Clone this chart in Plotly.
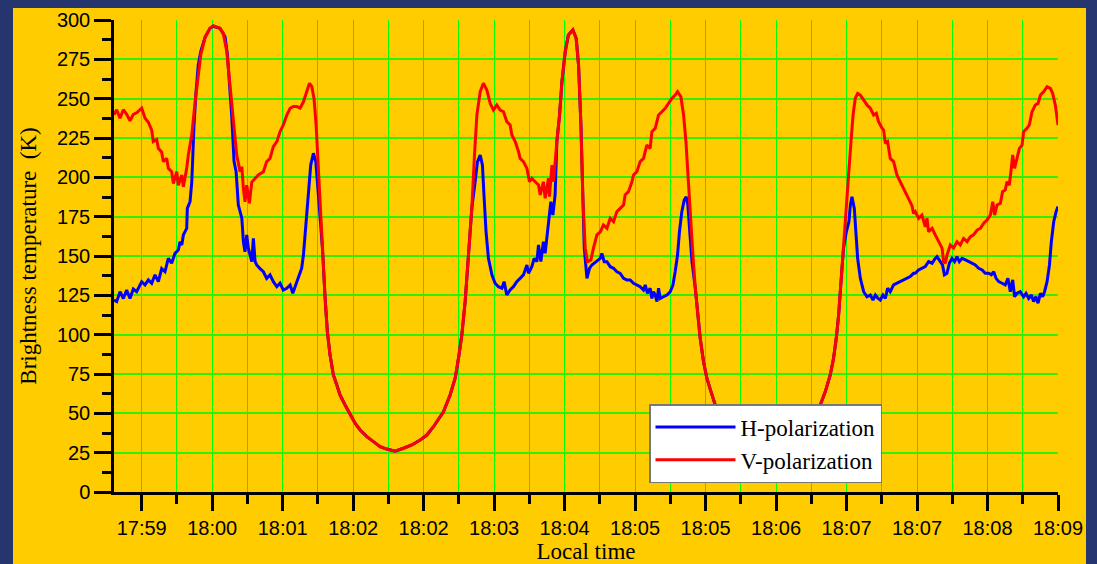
import pandas as pd
import plotly.graph_objects as go

# Observation start (date is arbitrary; only the clock time matters)
base = pd.Timestamp("2024-01-01 17:59:00")

# ---------------- H-polarization: seconds after 17:59:00, brightness temperature (K)
h_sec = [31.5, 33.2, 35.3, 37.4, 39.5, 41.6, 43.7, 45.8, 49.0, 51.1, 53.2, 55.3, 57.4, 59.5,
         61.6, 63.7, 65.8, 67.9, 70.0, 72.1, 73.2, 74.3, 75.3, 77.4, 77.8, 79.5, 80.6, 81.2,
         82.0, 83.3, 84.7, 86.3, 89.0, 92.1, 94.2, 98.4, 101.6, 103.1, 104.8, 105.8, 107.3,
         108.6, 110.0, 111.1, 112.2, 113.2, 114.2, 115.3, 116.3, 118.5, 119.5, 120.6, 121.6,
         123.7, 125.8, 127.9, 130.0, 132.1, 134.3, 136.3, 138.4, 140.6, 142.7, 144.4, 145.8,
         147.9, 150.0, 151.1, 152.8, 154.2, 155.7, 157.4, 158.9, 159.9, 161.2, 163.1, 164.8,
         166.2, 167.9, 170.0, 172.2, 174.2, 177.4, 180.6, 183.7, 186.9, 191.1, 195.3, 199.5,
         203.7, 209.0, 214.2, 219.5, 224.8, 229.0, 233.2, 235.3, 239.5, 243.7, 246.9, 249.0,
         251.1, 253.2, 255.3, 257.4, 259.5, 261.0, 262.7, 264.1, 265.2, 266.4, 267.9, 270.1,
         272.1, 274.2, 276.4, 277.8, 279.5, 281.6, 283.7, 285.8, 287.9, 290.0, 292.2, 293.2,
         295.3, 296.8, 298.5, 299.5, 301.0, 302.6, 303.7, 305.2, 306.4, 307.3, 308.6, 310.0,
         311.1, 312.8, 314.3, 316.4, 318.4, 321.2, 323.3, 324.8, 326.3, 327.5, 328.4, 330.1,
         331.7, 333.2, 334.7, 336.4, 338.5, 339.5, 341.0, 342.7, 344.8, 346.9, 349.0, 351.1,
         353.2, 355.3, 357.4, 359.5, 361.6, 363.7, 365.8, 366.9, 368.3, 370.0, 371.1, 372.1,
         373.2, 374.3, 375.3, 376.4, 378.4, 380.6, 382.7, 384.4, 385.8, 387.3, 388.5, 390.0,
         391.5, 392.8, 393.8, 394.9, 396.4, 398.5, 399.9, 401.6, 403.7, 405.8, 408.4, 411.1,
         414.4, 417.7, 420.9, 425.4, 429.7, 434.1, 438.5, 443.9, 449.4, 454.9, 460.4, 464.8,
         469.1, 471.3, 475.6, 477.4, 480.6, 483.7, 485.8, 487.5, 489.0, 490.5, 492.1, 493.8,
         495.5, 496.4, 497.4, 498.9, 500.2, 501.0, 502.7, 504.8, 506.9, 509.0, 510.7, 512.2,
         513.9, 515.3, 517.0, 518.5, 519.9, 521.6, 523.7, 525.8, 527.9, 530.0, 532.2, 534.2,
         536.3, 537.4, 539.5, 541.6, 543.7, 545.8, 548.0, 550.0, 551.1, 553.2, 554.6, 555.8,
         557.4, 558.9, 560.6, 562.2, 563.7, 565.2, 566.9, 569.1, 571.2, 573.3, 575.3, 577.4,
         579.6, 581.6, 583.7, 585.4, 586.9, 588.4, 590.1, 592.2, 594.2, 595.9, 597.4, 598.9,
         600.1, 601.6, 603.7, 605.8, 607.3, 609.0, 610.7, 612.1, 613.6, 614.9, 616.4, 617.8,
         619.0, 620.6, 622.1, 623.3, 624.8, 626.3, 627.5]
h_temp = [122, 121, 127.3, 123, 128.4, 123, 129, 127.3, 133.7, 131.6, 134.8, 132.7, 138, 133.7,
          142, 140, 148.5, 145.4, 151.7, 153.8, 159, 157, 163.4, 167.6, 180.3, 184.5, 197, 218.5,
          233, 254.5, 271.4, 280, 289, 294.7, 296, 294.7, 289.4, 278, 256.6, 239.6, 210,
          203.6, 182.4, 178, 174, 159, 152.7, 163.4, 155, 146.4, 161.2, 146.4, 144.3,
          142, 140, 135.8, 138, 133.7, 130.5, 132.7, 128.4, 129.5, 131.6, 126.3, 130.5,
          135.8, 142.2, 150.6, 171.8, 193, 207.8, 215.3, 210, 197.2, 180.3, 155, 123,
          101.9, 87, 74.4, 68, 61.7, 55.3, 49, 43.7, 39.4, 35.2, 32, 28.8,
          27.3, 26, 27.8, 29.9, 33, 36.2, 41.5, 44.7, 51, 61.7, 72.3, 85,
          99.8, 121, 148.5, 180.3, 197.2, 210, 214.2, 207.8, 186.7, 165.4, 148.5, 138,
          132.7, 130.5, 129.5, 133.7, 125.2, 128.4, 130.5, 133.7, 135.8, 138, 144.3, 139,
          143.2, 148.5, 146.4, 157, 146.4, 159.1, 151.7, 165.4, 172.9, 184.5, 176, 188.8,
          222.7, 239.6, 260.8, 280, 290.5, 293.7, 288.4, 271.4, 233.3, 186.7, 155, 135.8,
          142.2, 144.3, 145.4, 146.4, 148.5, 151.7, 146.4, 146.4, 143.2, 142.2, 140, 139,
          135.8, 134.8, 134.8, 132.7, 131.6, 130.5, 128.4, 131.6, 126.3, 129.5, 123, 127.3,
          125.2, 121, 129.5, 123, 124.1, 125.2, 127.3, 131.6, 140, 150.6, 165.4, 178.2,
          185.6, 187.7, 182.4, 165.4, 146.4, 129.5, 114.6, 97.7, 82.8, 72.3, 63.8, 55.3,
          49, 43.7, 39.4, 35.2, 32, 28.8, 27.3, 26, 27.8, 29.9, 33, 36.2,
          41.5, 44.7, 51, 55.3, 63.8, 74.4, 85, 97.7, 112.5, 133.7, 155, 165,
          171.8, 182.4, 187.7, 180.3, 163.4, 148.5, 135.8, 127.3, 124.1, 125.2, 122, 125.2,
          123, 122, 125.2, 123, 129.5, 127.3, 131.6, 132.7, 133.7, 134.8, 135.8, 136.9,
          139, 139, 141.1, 142.2, 143.2, 146.4, 145.4, 148.5, 149.6, 146.4, 144.3, 138,
          139, 145.4, 148.5, 146.4, 149.6, 146.4, 148.5, 147.5, 146.4, 145.4, 144.3, 142.2,
          141.1, 139, 139, 138, 140, 135.8, 133.7, 132.7, 131.6, 135.8, 127.3, 134.8,
          124.1, 126.3, 127.3, 124.1, 126.3, 123, 125.2, 121, 124.1, 120, 126.3, 124.1,
          127.3, 133.7, 144.3, 159.1, 171.8, 178.2, 181.4]

# ---------------- V-polarization
v_sec = [31.5, 33.2, 35.3, 37.4, 39.5, 41.6, 43.7, 45.8, 49.0, 51.1, 53.2, 55.3, 56.3, 58.5,
         59.5, 61.6, 62.6, 64.8, 65.8, 67.9, 69.0, 71.1, 72.1, 74.3, 75.3, 77.4, 78.4, 79.5,
         80.6, 82.7, 84.6, 86.3, 89.0, 92.1, 94.2, 98.4, 100.5, 102.7, 104.3, 105.8, 107.3,
         109.0, 111.1, 112.2, 113.2, 114.2, 115.3, 117.0, 118.5, 120.6, 122.6, 125.8, 127.9,
         130.0, 132.1, 134.3, 136.3, 138.4, 140.6, 142.7, 144.7, 146.9, 149.0, 151.1, 153.2,
         154.9, 156.4, 157.8, 159.1, 160.5, 161.6, 163.1, 164.8, 166.2, 167.9, 170.0, 172.2,
         174.2, 177.4, 180.6, 183.7, 186.9, 191.1, 195.3, 199.5, 203.7, 209.0, 214.2, 219.5,
         224.8, 229.0, 233.2, 235.3, 239.5, 243.7, 246.9, 249.0, 251.1, 253.2, 255.3, 257.4,
         259.1, 260.6, 262.7, 264.7, 266.9, 269.0, 271.1, 273.2, 275.3, 277.4, 279.5, 281.6,
         282.7, 284.8, 286.9, 287.9, 290.0, 292.2, 293.8, 295.3, 297.4, 299.5, 300.6, 302.6,
         303.7, 305.8, 306.4, 308.0, 309.0, 310.0, 311.1, 312.8, 314.3, 316.4, 318.4, 321.2,
         323.3, 324.8, 326.3, 327.5, 329.0, 330.4, 332.6, 334.2, 336.4, 338.5, 340.5, 342.7,
         344.8, 346.9, 349.0, 351.1, 353.2, 354.2, 356.3, 358.5, 359.5, 361.6, 363.7, 365.8,
         366.9, 367.9, 370.0, 371.1, 373.2, 375.3, 377.4, 379.5, 381.6, 383.7, 385.8, 387.3,
         389.4, 391.1, 392.6, 393.8, 395.3, 397.0, 398.5, 399.9, 401.6, 403.7, 405.8, 408.4,
         411.1, 414.4, 417.7, 420.9, 425.4, 429.7, 434.1, 438.5, 443.9, 449.4, 454.9, 460.4,
         464.8, 469.1, 471.3, 475.6, 477.4, 480.6, 483.7, 485.8, 487.5, 489.0, 490.5, 492.1,
         493.8, 495.3, 496.8, 498.1, 499.5, 501.0, 502.7, 504.8, 506.9, 509.0, 511.1, 512.8,
         514.2, 516.4, 517.4, 518.5, 519.9, 521.6, 523.7, 525.8, 527.9, 530.0, 532.2, 533.8,
         535.3, 536.3, 537.4, 539.5, 541.6, 543.7, 544.8, 545.8, 548.0, 550.0, 552.1, 554.3,
         555.3, 556.4, 557.4, 559.5, 561.6, 563.7, 565.8, 567.9, 570.1, 572.2, 574.2, 576.4,
         578.5, 580.6, 582.7, 584.8, 586.3, 587.5, 589.0, 591.1, 592.5, 594.2, 595.3, 596.8,
         598.0, 598.9, 600.1, 601.6, 603.1, 604.8, 605.8, 607.9, 609.4, 611.1, 613.2, 614.9,
         616.4, 618.4, 620.6, 622.7, 624.1, 625.8, 627.5]
v_temp = [239.7, 243, 237.5, 243, 240, 236, 240, 241, 244, 237.5, 235, 230, 222.7, 224,
          218.5, 216, 210, 212, 205.7, 203.6, 196, 203.6, 195, 201.5, 194, 205.7, 214, 219.5,
          227, 248, 265, 278, 289, 294.7, 296.4, 294.7, 291.5, 280, 263, 248, 229,
          214, 203.6, 206.8, 193, 184.5, 195, 183.5, 197, 199, 201.5, 203.6, 210,
          212, 219.5, 222.7, 229, 233.3, 239.6, 243.9, 245, 245, 244, 248, 254.4,
          259.8, 257.6, 250, 233.3, 205.7, 180.3, 155, 123, 101.9, 87, 74.4, 68,
          61.7, 55.3, 49, 43.7, 39.4, 35.2, 32, 28.8, 27.3, 26, 27.8, 29.9,
          33, 36.2, 41.5, 44.7, 51, 61.7, 72.3, 85, 99.8, 121, 148.5, 180.3,
          214.2, 239.6, 254.4, 259.8, 255.5, 247, 242.8, 246, 242.8, 241.7, 235.4, 233.3,
          226.9, 222.7, 216.3, 212, 210, 205.7, 197.2, 199.4, 197.2, 195.1, 188.8, 197.2,
          186.7, 199.4, 187.7, 207.8, 197.2, 210, 222.7, 239.6, 260.8, 280, 290.5, 293.7,
          288.4, 271.4, 233.3, 186.7, 155, 146.4, 147.5, 155, 163.4, 165.4, 169.7, 167.6,
          174, 171.8, 178.2, 180.3, 182.4, 188.8, 190.9, 197.2, 201.5, 203.6, 210, 212,
          216.3, 220.5, 218.4, 229, 231.2, 239.6, 241.7, 243.9, 247, 250.2, 252.3, 254.4,
          251.2, 239.6, 222.7, 201.5, 176, 150.6, 129.5, 114.6, 97.7, 82.8, 72.3, 63.8,
          55.3, 49, 43.7, 39.4, 35.2, 32, 28.8, 27.3, 26, 27.8, 29.9, 33,
          36.2, 41.5, 44.7, 51, 55.3, 63.8, 74.4, 85, 97.7, 112.5, 133.7, 155,
          176, 201.5, 222.7, 239.6, 250.2, 253.4, 252.3, 249.2, 246, 243.9, 239.6, 240.7,
          235.4, 231.2, 230, 221.6, 222.7, 212, 210, 201.5, 197.2, 193, 188.8, 185.6,
          182, 177.1, 178.2, 174, 176, 168.6, 174, 165.4, 167.6, 163.4, 159.1, 155,
          146.4, 145.4, 150.6, 157, 155, 159.1, 157, 161.2, 159.1, 162.3, 163.4, 166.5,
          167.6, 170.8, 172.9, 176, 184.5, 176, 182.4, 183.5, 190.9, 192, 197.2, 195.1,
          205.7, 214.2, 205.7, 212, 218.4, 220.5, 229, 231.2, 233.3, 241.7, 246, 247,
          252.3, 254.4, 257.6, 256.5, 253.4, 246, 233.3]

y_ticks = [0, 25, 50, 75, 100, 125, 150, 175, 200, 225, 250, 275, 300]


def clock(secs):
    return [base + pd.Timedelta(seconds=s) for s in secs]


fig = go.Figure()
fig.add_trace(go.Scatter(x=clock(h_sec), y=h_temp, mode="lines", name="H-polarization",
                         line=dict(color="#0000ff", width=3)))
fig.add_trace(go.Scatter(x=clock(v_sec), y=v_temp, mode="lines", name="V-polarization",
                         line=dict(color="#ff0000", width=3)))

W, H = 1097, 564
L, R, T, B = 114, 1058, 20, 492
pw, ph = R - L, B - T

# yellow slide panel behind the chart
fig.add_shape(type="rect", xref="paper", yref="paper", layer="below",
              x0=(13 - L) / pw, x1=(1086 - L) / pw,
              y0=(B - 570) / ph, y1=(B - 8) / ph,
              fillcolor="#ffcc00", line=dict(width=0))

tickfont = dict(family="Liberation Sans, Arial", size=20, color="black")
serif = "Liberation Serif, Times New Roman"

fig.update_layout(
    width=W, height=H,
    margin=dict(l=L, r=W - R, t=T, b=H - B, autoexpand=False),
    paper_bgcolor="#27356f",
    plot_bgcolor="#ffcc00",
    showlegend=True,
    legend=dict(x=(649 - L) / pw, y=(B - 404) / ph, xanchor="left", yanchor="top",
                bgcolor="white", bordercolor="#777777", borderwidth=1.5,
                font=dict(family=serif, size=23, color="black"),
                itemwidth=80, tracegroupgap=0),
    xaxis=dict(
        type="date", automargin=False,
        range=[base + pd.Timedelta(seconds=31.5), base + pd.Timedelta(seconds=627.5)],
        tick0=base + pd.Timedelta(seconds=49), dtick=44500, tickformat="%H:%M",
        ticks="outside", ticklen=16, tickwidth=2.5, tickcolor="black",
        showline=True, linecolor="black", linewidth=2.5,
        showgrid=True, gridcolor="#00ff00", gridwidth=1.2,
        minor=dict(dtick=22250, tick0=base + pd.Timedelta(seconds=49), ticks="outside",
                   ticklen=9, tickwidth=2.5, tickcolor="black",
                   showgrid=True, gridcolor="#00ff00", gridwidth=1.2),
        tickfont=tickfont, zeroline=False,
        title=dict(text="Local time", font=dict(family=serif, size=23, color="black"),
                   standoff=7),
    ),
    yaxis=dict(
        range=[0, 300], tickmode="array", tickvals=y_ticks, automargin=False,
        ticks="outside", ticklen=17, tickwidth=2.5, tickcolor="black",
        showline=True, linecolor="black", linewidth=2.5,
        showgrid=True, gridcolor="#33ee00", gridwidth=2,
        minor=dict(dtick=12.5, tick0=0, ticks="outside", ticklen=9, tickwidth=2.5,
                   tickcolor="black", showgrid=False),
        tickfont=tickfont, zeroline=False,
        title=dict(text="Brightness temperature \u00a0(K)",
                   font=dict(family=serif, size=23, color="black"), standoff=14),
    ),
)

fig.write_html("out.html")
